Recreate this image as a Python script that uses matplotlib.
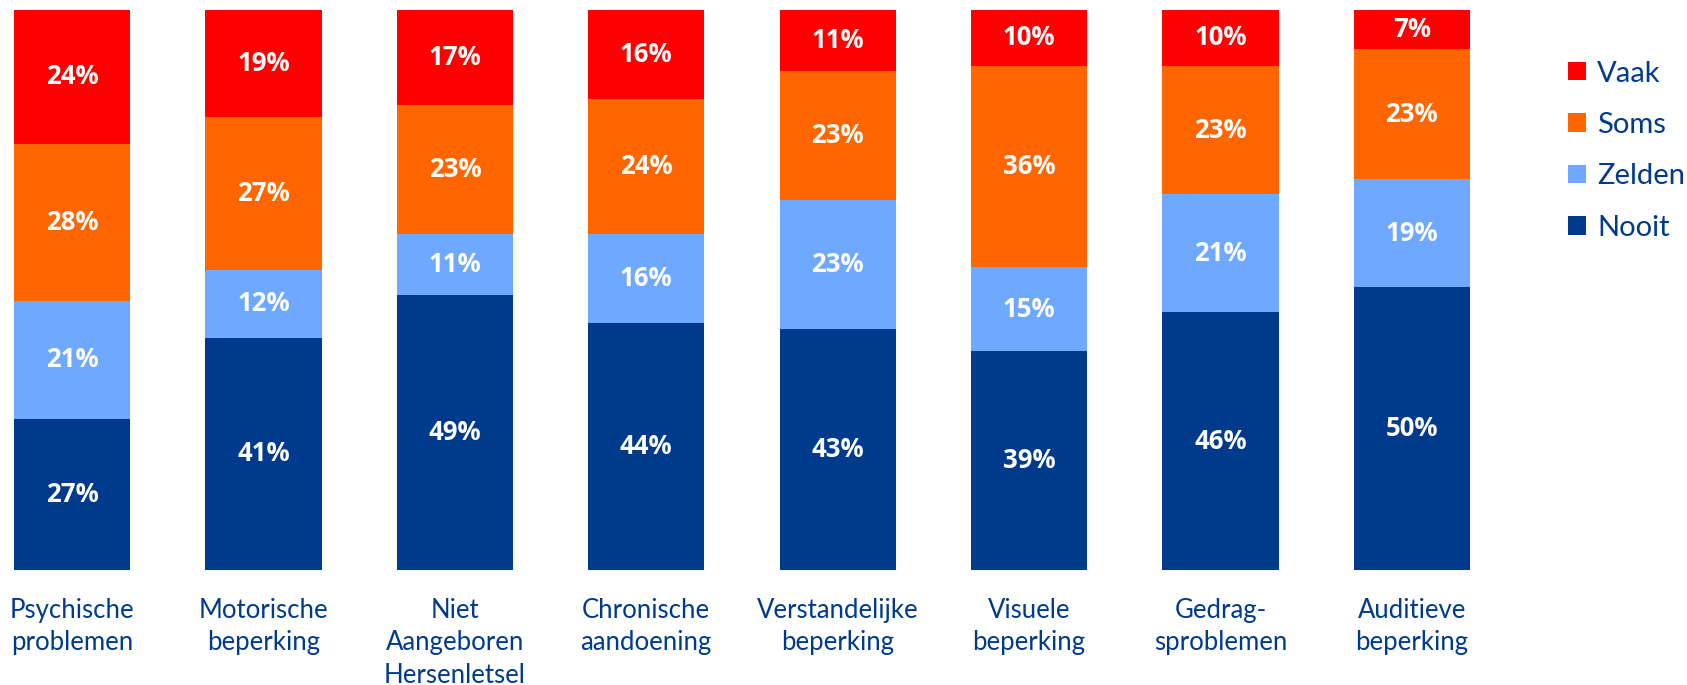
import numpy as np
import matplotlib.pyplot as plt

# -------------------------------------------------------
# DATA
# -------------------------------------------------------
CATEGORIES = [
    "Psychische\nproblemen",
    "Motorische\nbeperking",
    "Niet\nAangeboren\nHersenletsel",
    "Chronische\naandoening",
    "Verstandelijke\nbeperking",
    "Visuele\nbeperking",
    "Gedrag-\nsproblemen",
    "Auditieve\nbeperking",
]

nooit = [27, 41, 49, 44, 43, 39, 46, 50]
zelden = [21, 12, 11, 16, 23, 15, 21, 19]
soms = [28, 27, 23, 24, 23, 36, 23, 23]
vaak = [24, 19, 17, 16, 11, 10, 10, 7]

SERIES = ["Nooit", "Zelden", "Soms", "Vaak"]
COLORS = ["#003A8C", "#6FA8FF", "#FF6600", "#FF0000"]

plt.rcParams['font.family'] = ['Lato', 'DejaVu Sans']

fig = plt.figure(figsize=(16.87, 6.85), dpi=100)
ax = fig.add_axes([0.0, 0.168, 0.88, 0.818])

values = np.array([nooit, zelden, soms, vaak], dtype=float)
totals = values.sum(axis=0)
shares = values / totals * 100  # 100% stacked

x = np.arange(len(CATEGORIES))
bottom = np.zeros(len(CATEGORIES))
handles = []
for i, name in enumerate(SERIES):
    bars = ax.bar(x, shares[i], 0.607, bottom=bottom, color=COLORS[i],
                  label=name, linewidth=0)
    handles.append(bars)
    for j in range(len(x)):
        ax.text(x[j], bottom[j] + shares[i][j] / 2, f"{int(values[i][j])}%",
                ha="center", va="center", color="white",
                fontsize=18.5, fontweight="bold",
                family=["Open Sans", "DejaVu Sans"])
    bottom += shares[i]

ax.set_xlim(-0.377, 7.38)
ax.set_ylim(0, 100)
ax.set_xticks(x)
ax.set_xticklabels(CATEGORIES, fontsize=18.5, color="#003A8C",
                   linespacing=1.38, va="top")
ax.tick_params(axis="x", length=0, pad=20)
ax.set_yticks([])
for s in ax.spines.values():
    s.set_visible(False)

leg = fig.legend(handles[::-1], SERIES[::-1], loc="upper left",
                 bbox_to_anchor=(0.914, 0.95), frameon=False,
                 fontsize=21, handlelength=0.6, handleheight=0.6,
                 handletextpad=0.4, labelspacing=0.87)
for t in leg.get_texts():
    t.set_color("#003A8C")

fig.savefig("out.png", dpi=100)
